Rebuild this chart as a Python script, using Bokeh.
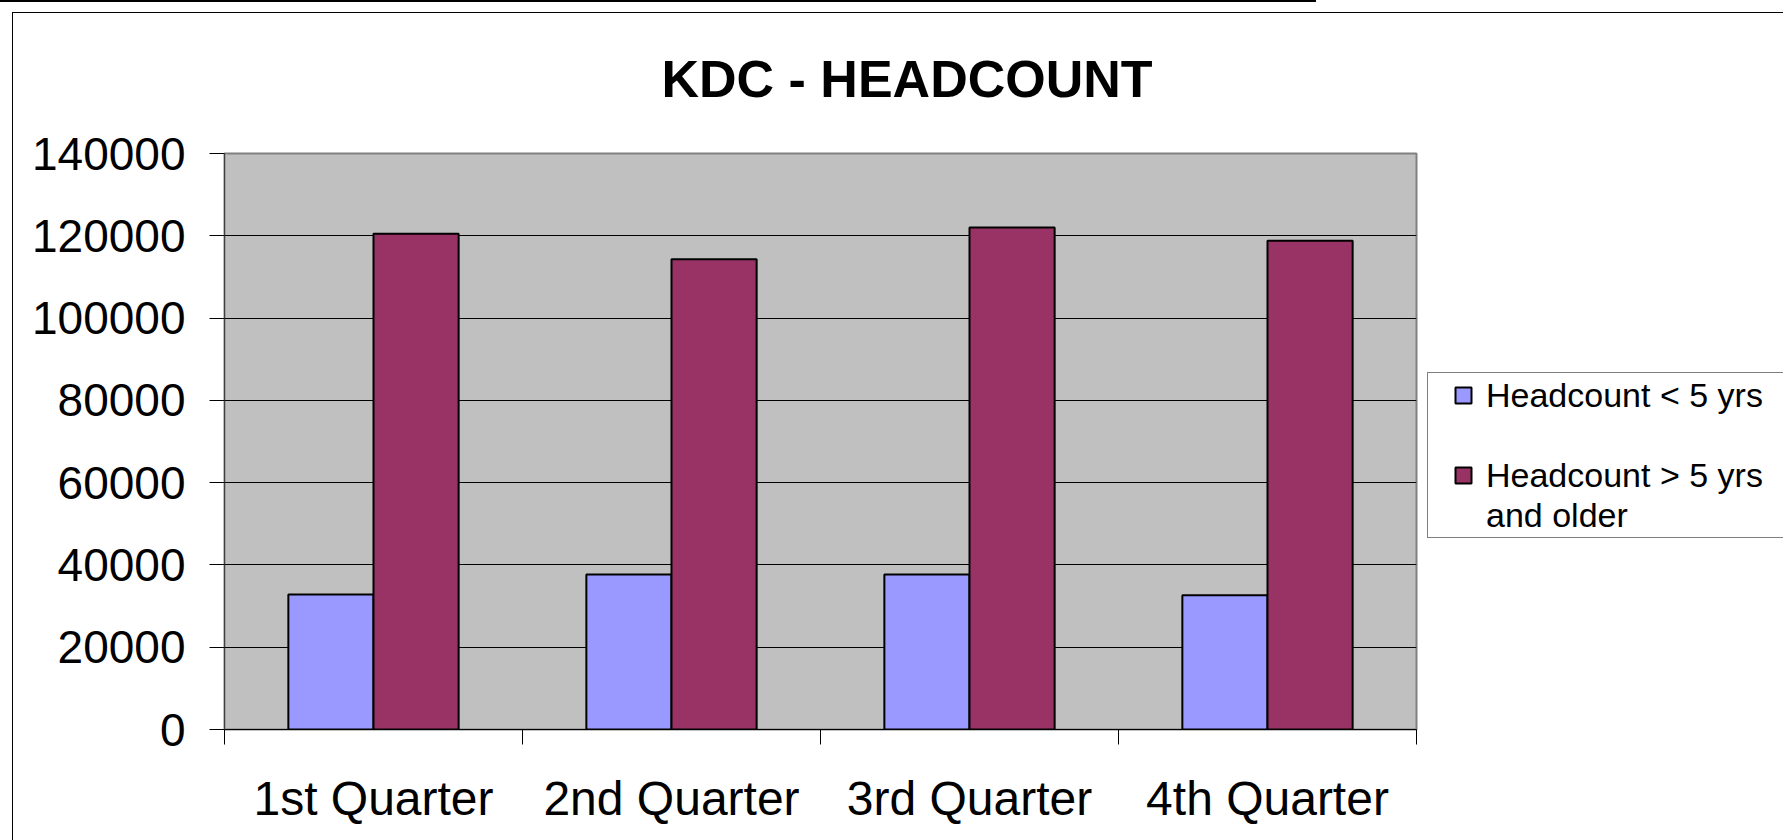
from bokeh.plotting import figure
from bokeh.models import (ColumnDataSource, Range1d, FixedTicker, NumeralTickFormatter,
                          Legend, LegendItem)
from bokeh.core.properties import value
from bokeh.embed import file_html
from bokeh.resources import INLINE

# ---- data ----
quarters = ["1st Quarter", "2nd Quarter", "3rd Quarter", "4th Quarter"]
headcount_lt5 = [32800, 37700, 37650, 32600]
headcount_gt5 = [120500, 114300, 122000, 118800]
series_names = ["Headcount < 5 yrs", "Headcount > 5 yrs and older"]
y_ticks = [0, 20000, 40000, 60000, 80000, 100000, 120000, 140000]
title_text = "KDC - HEADCOUNT"

FONT = "Liberation Sans"
BLUE = "#9999FF"
MAROON = "#993366"

n = len(quarters)
bw = 1 / 3.5  # Excel gap width 150%
centers = [i + 0.5 for i in range(n)]
src = ColumnDataSource(dict(
    x_lt5=[c - bw / 2 for c in centers],
    x_gt5=[c + bw / 2 for c in centers],
    lt5=headcount_lt5,
    gt5=headcount_gt5,
))

W, H = 1783, 840
FRAME_W, FRAME_H = 1192, 576
LEFT, TOP = 224, 153
RIGHT = W - LEFT - FRAME_W
BOTTOM = H - TOP - FRAME_H

p = figure(frame_width=FRAME_W, frame_height=FRAME_H,
           min_border_left=LEFT, min_border_right=RIGHT,
           min_border_top=TOP, min_border_bottom=BOTTOM,
           x_range=Range1d(0, n), y_range=Range1d(0, y_ticks[-1]),
           output_backend="svg", toolbar_location=None, tools="")

# chart-area decoration lines drawn as page background behind a transparent border
p.border_fill_alpha = 0
p.styles = {
    "background": (
        "linear-gradient(#000,#000) 0px 0px / 1316px 2px no-repeat, "
        "linear-gradient(#000,#000) 12px 12px / 1771px 1px no-repeat, "
        "linear-gradient(#000,#000) 12px 12px / 1px 828px no-repeat, #ffffff"
    )
}

p.background_fill_color = "#C0C0C0"
p.outline_line_color = "#808080"
p.outline_line_width = 2

# title
p.title.text = title_text
p.title.text_font = FONT
p.title.text_font_style = "bold"
p.title.text_font_size = "52px"
p.title.text_color = "black"
p.title.align = "left"
p.title.offset = 437
p.title.standoff = 92

# grid
p.xgrid.visible = False
p.ygrid.ticker = FixedTicker(ticks=y_ticks)
p.ygrid.grid_line_color = "#000000"
p.ygrid.grid_line_width = 1

# y axis
ya = p.yaxis[0]
ya.ticker = FixedTicker(ticks=y_ticks)
ya.formatter = NumeralTickFormatter(format="0")
ya.major_label_text_font = FONT
ya.major_label_text_font_size = "46px"
ya.major_label_text_color = "black"
ya.major_tick_out = 15
ya.major_tick_in = 0
ya.minor_tick_out = 0
ya.minor_tick_in = 0
ya.major_tick_line_color = "black"
ya.axis_line_color = "#404040"
ya.major_label_standoff = 24

# x axis: ticks at category boundaries, labels at centres
xa = p.xaxis[0]
xa.ticker = FixedTicker(ticks=centers, minor_ticks=[float(i) for i in range(n + 1)])
xa.major_label_overrides = {c: q for c, q in zip(centers, quarters)}
xa.major_label_text_font = FONT
xa.major_label_text_font_size = "48px"
xa.major_label_text_color = "black"
xa.major_tick_out = 0
xa.major_tick_in = 0
xa.minor_tick_out = 15
xa.minor_tick_in = 0
xa.minor_tick_line_color = "black"
xa.axis_line_color = "black"
xa.axis_line_width = 1
xa.major_label_standoff = 27

# bars
r1 = p.vbar(x="x_lt5", top="lt5", width=bw, source=src,
            fill_color=BLUE, line_color="black", line_width=2)
r2 = p.vbar(x="x_gt5", top="gt5", width=bw, source=src,
            fill_color=MAROON, line_color="black", line_width=2)
dummy = p.vbar(x=[], top=[], width=0.1, fill_alpha=0, line_alpha=0)

# legend (second series label wraps onto a second line)
legend_lines = [series_names[0], " ", "Headcount > 5 yrs", "and older"]
legend_rends = [r1, dummy, r2, dummy]
items = [LegendItem(label=value(t), renderers=[r]) for t, r in zip(legend_lines, legend_rends)]
leg = Legend(items=items, margin=0, spacing=0,
             glyph_width=20, glyph_height=20, label_standoff=13,
             label_height=40,
             label_text_font=FONT, label_text_font_size="34px",
             label_text_color="black",
             border_line_color="black", border_line_width=1,
             background_fill_color="white", background_fill_alpha=1)
box_left, box_bottom = 1427, 538
try:
    leg.padding = (25, 2)   # (horizontal, vertical)
except Exception:
    leg.padding = 14
    box_left = 1452 - 14
    box_bottom = 536 + 14
leg.location = (box_left - (LEFT + FRAME_W), (TOP + FRAME_H) - box_bottom)
p.add_layout(leg, "right")

open("out.html", "w").write(file_html(p, INLINE))
